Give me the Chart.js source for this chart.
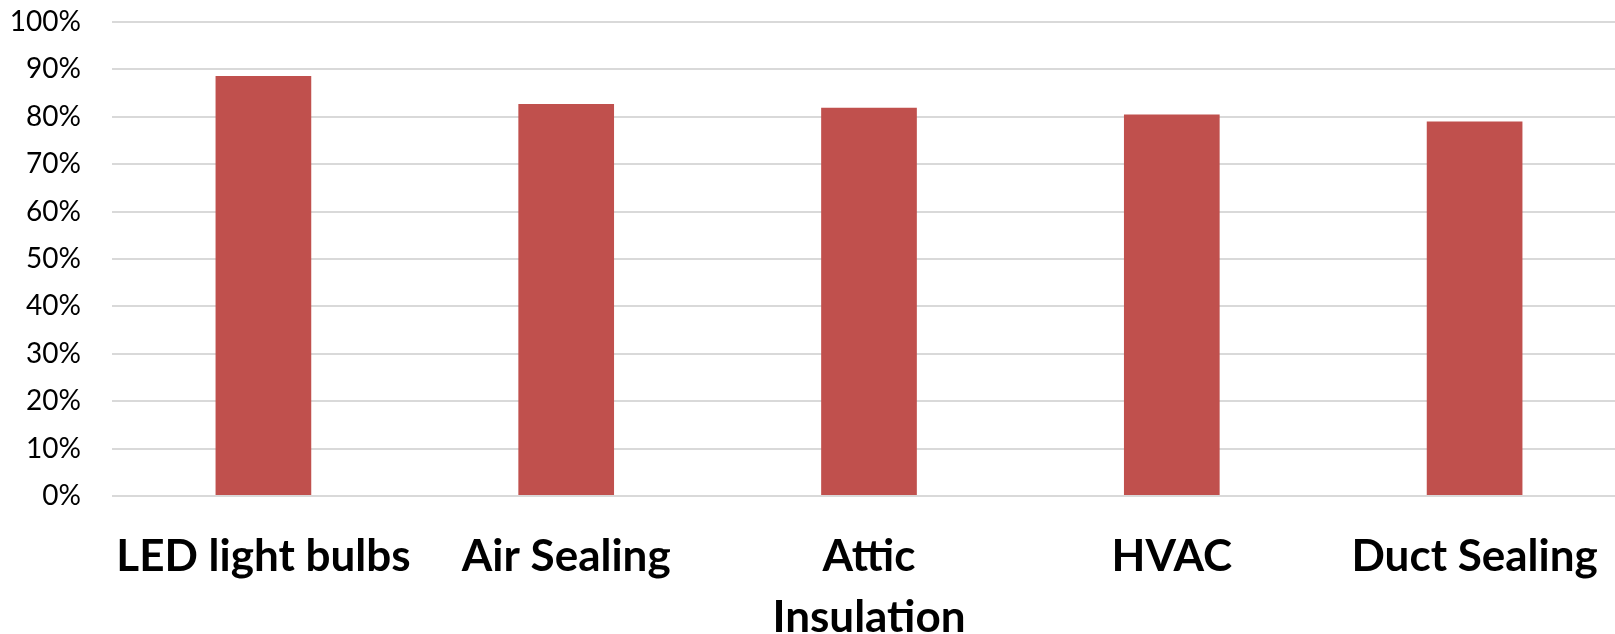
<!DOCTYPE html>
<html>
<head>
<meta charset="utf-8">
<style>
  html, body { margin: 0; padding: 0; background: #fff; }
  #wrap { width: 1615px; height: 634px; }
</style>
<script src="https://cdn.jsdelivr.net/npm/chart.js@4/dist/chart.umd.min.js"></script>
</head>
<body>
<div id="wrap"><canvas id="barChart" width="1615" height="634"></canvas></div>
<script>
// data
const categories = ['LED light bulbs', 'Air Sealing', ['Attic', 'Insulation'], 'HVAC', 'Duct Sealing'];
const shares = [88.6, 82.7, 81.9, 80.5, 79.0];
const yTicks = [0, 10, 20, 30, 40, 50, 60, 70, 80, 90, 100];

// the reference plot runs a little past the right edge of the picture
const stretchRight = {
    id: 'stretchRight',
    afterLayout(chart) {
        const extra = 11;
        const x = chart.scales.x;
        x.right += extra;
        x.width += extra;
        x.configure();
        chart.chartArea.right += extra;
        chart.chartArea.width += extra;
    }
};

const ctx = document.getElementById('barChart');
new Chart(ctx, {
    type: 'bar',
    data: {
        labels: categories,
        datasets: [
            {
                label: 'Share',
                data: shares,
                backgroundColor: '#C0504D',
                borderWidth: 0,
                barPercentage: 0.316,
                categoryPercentage: 1.0
            }
        ]
    },
    options: {
        responsive: false,
        devicePixelRatio: 1,
        animation: false,
        layout: { padding: { top: 22, right: 0, left: 0, bottom: 0 } },
        plugins: {
            legend: { display: false },
            tooltip: { enabled: false }
        },
        scales: {
            x: {
                grid: { display: false, drawTicks: false },
                border: { display: false },
                afterFit: s => {
                    s.height = 138;
                    s.paddingLeft = 0;
                    s.paddingRight = 0;
                },
                ticks: {
                    color: '#000',
                    maxRotation: 0,
                    autoSkip: false,
                    padding: 30,
                    font: { family: 'Lato', size: 44, weight: 'bold', lineHeight: 1.39 }
                }
            },
            y: {
                min: 0,
                max: 100,
                afterBuildTicks: axis => { axis.ticks = yTicks.map(v => ({ value: v })); },
                afterFit: s => {
                    s.width = 112;
                    s.paddingTop = 0;
                    s.paddingBottom = 0;
                },
                grid: { color: '#d9d9d9', lineWidth: 2, drawTicks: false },
                border: { display: false },
                ticks: {
                    color: '#000',
                    padding: 31,
                    font: { family: 'Lato', size: 28 },
                    callback: v => v + '%'
                }
            }
        }
    },
    plugins: [stretchRight]
});
</script>
</body>
</html>
